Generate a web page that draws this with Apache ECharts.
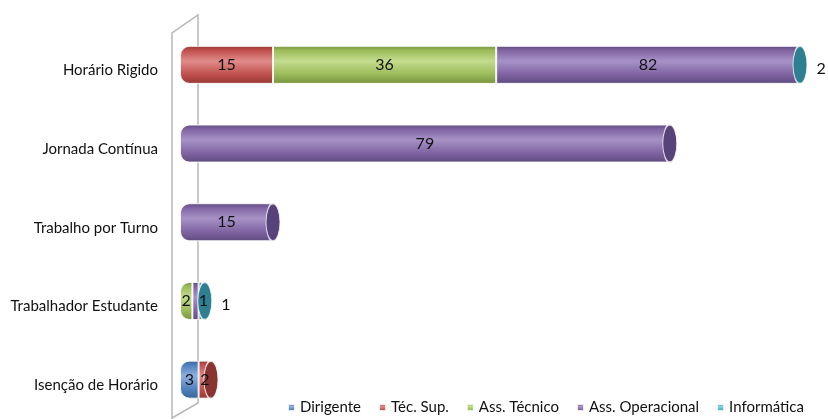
<!DOCTYPE html>
<html>
<head>
<meta charset="utf-8">
<script src="https://cdn.jsdelivr.net/npm/echarts@6/dist/echarts.min.js"></script>
<style>html,body{margin:0;padding:0;background:#fff}#c{width:828px;height:419px}</style>
</head>
<body>
<div id="c"></div>
<script>
var categories = ['Horário Rigido', 'Jornada Contínua', 'Trabalho por Turno', 'Trabalhador Estudante', 'Isenção de Horário'];
var seriesNames = ['Dirigente', 'Téc. Sup.', 'Ass. Técnico', 'Ass. Operacional', 'Informática'];
var dirigente = [0, 0, 0, 0, 3];
var tecSup = [15, 0, 0, 0, 2];
var assTecnico = [36, 0, 0, 2, 0];
var assOperacional = [82, 79, 15, 1, 0];
var informatica = [2, 0, 0, 1, 0];
var xMax = 100;

var values = [dirigente, tecSup, assTecnico, assOperacional, informatica];
var baseColors = ['#4F81BD', '#C0504D', '#9BBB59', '#8064A2', '#4BACC6'];
var lightColors = ['#8FB0DE', '#E08C8A', '#C4DC8E', '#A792C6', '#8DD3E6'];
var darkColors = ['#3A6396', '#953835', '#76923C', '#5F4A7E', '#31859C'];
var capColors = ['#2F5486', '#8A3431', '#6E8A33', '#57427A', '#2E7F92'];
var FONT = 'Lato';
var BAR_W = 38;

function grad(i) {
  return new echarts.graphic.LinearGradient(0, 0, 0, 1, [
    {offset: 0, color: darkColors[i]},
    {offset: 0.12, color: baseColors[i]},
    {offset: 0.4, color: lightColors[i]},
    {offset: 0.75, color: baseColors[i]},
    {offset: 1, color: darkColors[i]}
  ]);
}

function firstIdx(c) { for (var s = 0; s < values.length; s++) if (values[s][c] > 0) return s; return -1; }
function lastIdx(c) { for (var s = values.length - 1; s >= 0; s--) if (values[s][c] > 0) return s; return -1; }

var series = [];
seriesNames.forEach(function (name, s) {
  series.push({
    name: name,
    type: 'bar',
    stack: 'total',
    barWidth: BAR_W,
    barGap: '-100%',
    z: 2,
    itemStyle: {color: grad(s), borderColor: 'rgba(255,255,255,0.85)', borderWidth: 1},
    label: {show: false},
    data: values[s].map(function (v, c) {
      var r = firstIdx(c) === s ? [9, 0, 0, 9] : 0;
      return {value: v, itemStyle: {borderRadius: r}};
    })
  });
});

// end caps of the cylinders (+ outside labels of the last series)
var capData = categories.map(function (cat, c) {
  var tot = 0;
  for (var s = 0; s < values.length; s++) tot += values[s][c];
  var li = lastIdx(c);
  return {
    value: [Math.min(tot, xMax), c],
    itemStyle: {color: capColors[li]},
    label: {show: informatica[c] > 0, formatter: String(informatica[c])}
  };
});
series.push({
  type: 'scatter',
  name: 'cap',
  symbol: 'circle',
  symbolSize: [14, BAR_W],
  clip: false,
  z: 3,
  silent: true,
  itemStyle: {borderColor: 'rgba(255,255,255,0.8)', borderWidth: 1.5, opacity: 1},
  label: {position: 'right', distance: 9, offset: [0, 4], color: '#111', fontSize: 16, fontFamily: FONT},
  data: capData
});

// transparent copies carrying the value labels, drawn on top
seriesNames.forEach(function (name, s) {
  series.push({
    name: '_lbl' + s,
    type: 'bar',
    stack: 'labels',
    barWidth: BAR_W,
    z: 5,
    silent: true,
    itemStyle: {color: 'rgba(0,0,0,0)'},
    label: {
      show: s !== 4,
      position: 'inside',
      offset: [0, 4],
      color: '#111',
      fontSize: 16,
      fontFamily: FONT,
      formatter: function (p) { return p.value > 0 ? p.value : ''; }
    },
    labelLayout: function (p) {
      if (p.rect && p.labelRect && p.rect.width < p.labelRect.width) return {dx: 8};
      return {};
    },
    data: values[s]
  });
});

var chart = echarts.init(document.getElementById('c'));
chart.setOption({
  animation: false,
  grid: {left: 180, right: 28, top: 25.5, height: 395},
  xAxis: {type: 'value', min: 0, max: xMax, show: false},
  yAxis: {
    type: 'category',
    inverse: true,
    data: categories,
    axisLine: {show: false},
    axisTick: {show: false},
    axisLabel: {margin: 22, color: '#111', fontSize: 15, fontFamily: FONT, verticalAlign: 'top', padding: [-2, 0, 0, 0]}
  },
  legend: {
    data: seriesNames,
    left: 282,
    bottom: -1,
    icon: 'rect',
    itemWidth: 7,
    itemHeight: 7,
    itemGap: 17,
    textStyle: {color: '#111', fontSize: 15, fontFamily: FONT}
  },
  graphic: [
    {type: 'polyline', z: -1, shape: {points: [[172, 419], [172, 33], [198, 15], [198, 403], [172, 418]]},
     style: {fill: null, stroke: '#b8b8b8', lineWidth: 1.5}}
  ],
  series: series
});
</script>
</body>
</html>
